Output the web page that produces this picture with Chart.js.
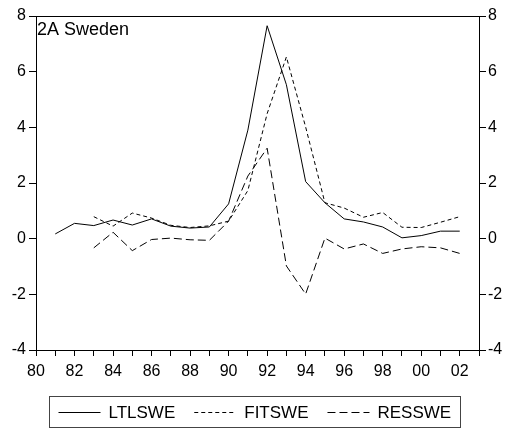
<!DOCTYPE html>
<html>
<head>
<meta charset="utf-8">
<script src="https://cdn.jsdelivr.net/npm/chart.js@4.4.1/dist/chart.umd.min.js"></script>
<style>
  html, body { margin: 0; padding: 0; background: #fff; }
  #chart_wrap { width: 509px; height: 430px; }
</style>
</head>
<body>
<div id="chart_wrap"><canvas id="chart_" width="509" height="430"></canvas></div>
<script>
// values, 1981 - 2002
const years = [1981, 1982, 1983, 1984, 1985, 1986, 1987, 1988, 1989, 1990, 1991,
               1992, 1993, 1994, 1995, 1996, 1997, 1998, 1999, 2000, 2001, 2002];
const ltlswe = [0.17, 0.55, 0.47, 0.67, 0.49, 0.71, 0.45, 0.38, 0.42, 1.25, 3.9,
                7.65, 5.53, 2.05, 1.29, 0.71, 0.6, 0.42, 0.03, 0.11, 0.27, 0.27];
const fitswe = [null, null, 0.79, 0.45, 0.92, 0.74, 0.48, 0.4, 0.46, 0.63, 1.73,
                4.49, 6.53, 4.01, 1.29, 1.1, 0.77, 0.94, 0.41, 0.4, 0.59, 0.79];
const resswe = [null, null, -0.33, 0.23, -0.43, -0.03, 0.02, -0.04, -0.06, 0.63, 2.25,
                3.25, -0.98, -1.99, 0.02, -0.37, -0.19, -0.53, -0.37, -0.29, -0.33, -0.53];
const seriesNames = ['LTLSWE', 'FITSWE', 'RESSWE'];
const yTicks = [-4, -2, 0, 2, 4, 6, 8];
const chartTitle = '2A Sweden';

const FONT = '"Liberation Sans", Arial, sans-serif';

function toPoints(values) {
  return years.map((yr, idx) => {
    return { x: yr, y: values[idx] };
  });
}

// frame top line, title text and the boxed legend under the axis
const framePlugin = {
  id: 'frame',
  afterDraw(chart) {
    const ctx = chart.ctx;
    const area = chart.chartArea;
    ctx.save();
    ctx.strokeStyle = '#000';
    ctx.lineWidth = 1;
    ctx.beginPath();
    const t = Math.round(area.top) + 0.5;
    ctx.moveTo(Math.round(area.left), t);
    ctx.lineTo(Math.round(area.right) + 1, t);
    ctx.stroke();

    ctx.fillStyle = '#000';
    ctx.font = '18px ' + FONT;
    ctx.textBaseline = 'alphabetic';
    ctx.textAlign = 'left';
    ctx.fillText(chartTitle, area.left + 1, area.top + 19);

    // legend
    ctx.font = '17px ' + FONT;
    const lineLen = 42, gap = 8, itemGap = 19, pad = 9;
    const items = chart.data.datasets.map(ds => ({
      label: ds.label, dash: ds.borderDash || [], w: ctx.measureText(ds.label).width
    }));
    let total = pad * 2;
    items.forEach((it, i) => { total += lineLen + gap + it.w + (i > 0 ? itemGap : 0); });
    const boxTop = 396, boxH = 31;
    let x0 = Math.round(chart.width / 2 - total / 2) + 0.5;
    ctx.strokeStyle = '#444';
    ctx.strokeRect(x0, boxTop + 0.5, Math.round(total), boxH);
    const cy = boxTop + boxH / 2 + 0.5;
    let x = x0 + pad;
    ctx.strokeStyle = '#000';
    items.forEach((it, i) => {
      if (i > 0) x += itemGap;
      ctx.setLineDash(it.dash);
      ctx.beginPath();
      ctx.moveTo(x, Math.round(cy) + 0.5);
      ctx.lineTo(x + lineLen, Math.round(cy) + 0.5);
      ctx.stroke();
      ctx.setLineDash([]);
      x += lineLen + gap;
      ctx.textBaseline = 'middle';
      ctx.fillText(it.label, x, cy + 1);
      x += it.w;
    });
    ctx.restore();
  }
};

const axisStyle = {
  min: -4,
  max: 8,
  afterBuildTicks: (scale) => { scale.ticks = yTicks.map(v => ({ value: v })); },
  grid: { drawOnChartArea: false, color: '#000', tickLength: 7, lineWidth: 1 },
  border: { color: '#000', width: 1 },
  ticks: { color: '#000', font: { family: FONT, size: 16 } }
};

const config = {
  type: 'line',
  data: {
    datasets: [
      {
        label: seriesNames[0],
        data: toPoints(ltlswe),
        borderColor: '#000',
        borderWidth: 1,
        pointRadius: 0,
        tension: 0
      },
      {
        label: seriesNames[1],
        data: toPoints(fitswe),
        borderColor: '#000',
        borderWidth: 1,
        borderDash: [4, 3],
        pointRadius: 0,
        tension: 0
      },
      {
        label: seriesNames[2],
        data: toPoints(resswe),
        borderColor: '#000',
        borderWidth: 1,
        borderDash: [8, 4],
        pointRadius: 0,
        tension: 0
      }
    ]
  },
  options: {
    responsive: false,
    animation: false,
    devicePixelRatio: 1,
    layout: { padding: { top: 16, left: 0, right: 0, bottom: 0 } },
    plugins: {
      legend: { display: false },
      tooltip: { enabled: false }
    },
    scales: {
      x: {
        type: 'linear',
        min: 1980,
        max: 2003,
        afterFit: (s) => { s.height = 80; },
        grid: { drawOnChartArea: false, color: '#000', tickLength: 6, lineWidth: 1 },
        border: { color: '#000', width: 1 },
        ticks: {
          stepSize: 1,
          autoSkip: false,
          maxRotation: 0,
          padding: 6,
          color: '#000',
          font: { family: FONT, size: 16 },
          callback: (v) => (v % 2 === 0 ? String(v).slice(2) : '')
        }
      },
      y: Object.assign({}, axisStyle, {
        position: 'left',
        afterFit: (s) => { s.width = 36; },
        ticks: Object.assign({}, axisStyle.ticks, { padding: 3 })
      }),
      y2: Object.assign({}, axisStyle, {
        position: 'right',
        afterFit: (s) => { s.width = 30; },
        ticks: Object.assign({}, axisStyle.ticks, { padding: 2 })
      })
    }
  },
  plugins: [framePlugin]
};

new Chart(document.getElementById('chart_'), config);
</script>
</body>
</html>
